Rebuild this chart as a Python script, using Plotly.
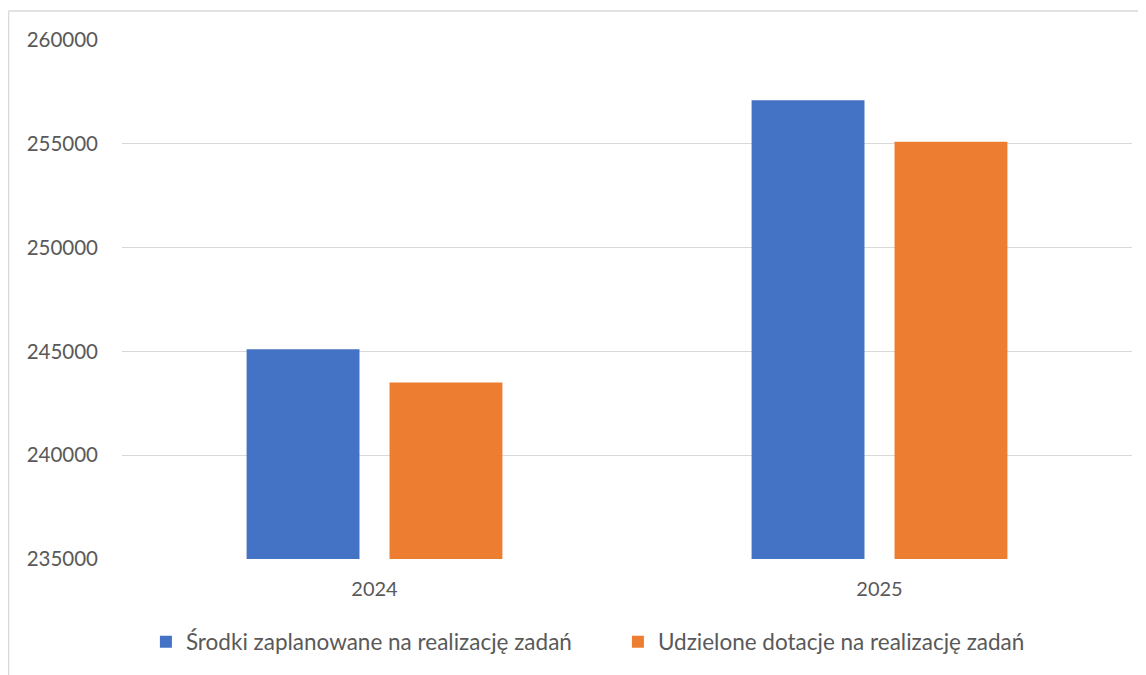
import plotly.graph_objects as go

years = ["2024", "2025"]
planned = [245100, 257100]
granted = [243500, 255100]
series_names = ["Środki zaplanowane na realizację zadań", "Udzielone dotacje na realizację zadań"]
y_ticks = [235000, 240000, 245000, 250000, 255000, 260000]
y_base = 235000

W, H = 1146, 675
# the page places the figure 8px from the top-left corner
L, R, T, B = 114, 22, 32, 124
pw, ph = W - L - R, H - T - B

def px_x(p):
    return (p - L) / pw

def px_y(p):
    return (H - B - p) / ph

FONT = "Lato, 'Open Sans', sans-serif"
GREY = "#595959"

fig = go.Figure()
fig.add_trace(go.Bar(x=years, y=[v - y_base for v in planned], base=y_base, name=series_names[0],
                     marker=dict(color="#4472C4", line=dict(width=0))))
fig.add_trace(go.Bar(x=years, y=[v - y_base for v in granted], base=y_base, name=series_names[1],
                     marker=dict(color="#ED7D31", line=dict(width=0))))

fig.update_layout(
    width=W, height=H,
    margin=dict(l=L, r=R, t=T, b=B, pad=0),
    paper_bgcolor="white", plot_bgcolor="white",
    barmode="group", bargap=0.434, bargroupgap=0.21,
    font=dict(family=FONT, size=20, color=GREY),
    showlegend=True,
    legend=dict(orientation="h", x=0.491, xanchor="center", y=px_y(634), yanchor="middle",
                font=dict(size=22.5, color=GREY), traceorder="normal",
                entrywidth=427, entrywidthmode="pixels"),
    xaxis=dict(showgrid=False, showline=False, zeroline=False, ticks="",
               ticklabelstandoff=16, tickfont=dict(size=20, color=GREY)),
    yaxis=dict(range=[y_base, 260000], tickvals=y_ticks, ticktext=[str(v) for v in y_ticks],
               showgrid=True, gridcolor="#d9d9d9", gridwidth=1, zeroline=False, showline=False,
               ticks="", ticklabelstandoff=23, tickfont=dict(size=20.5, color=GREY)),
    shapes=[
        dict(type="line", xref="paper", yref="paper", x0=px_x(0.5), x1=px_x(1160), y0=px_y(3), y1=px_y(3),
             line=dict(color="#d9d9d9", width=1.5)),
        dict(type="line", xref="paper", yref="paper", x0=px_x(0.5), x1=px_x(0.5), y0=px_y(3), y1=px_y(690),
             line=dict(color="#d9d9d9", width=1.5)),
    ],
)

fig.write_html("out.html")
